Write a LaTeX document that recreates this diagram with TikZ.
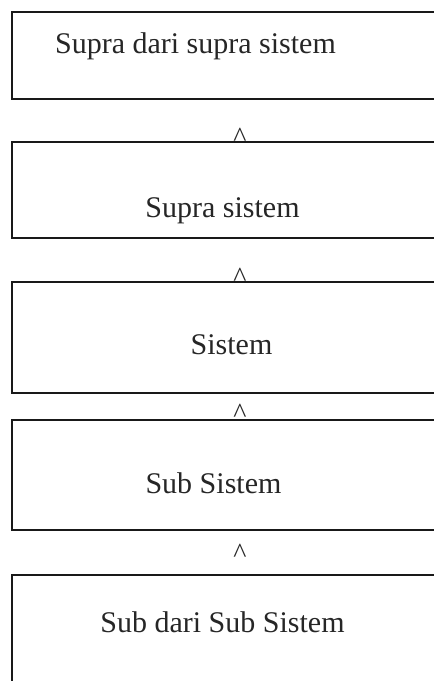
\documentclass[tikz,border=0pt]{standalone}
\usepackage{fontspec}
\setmainfont{Liberation Serif}
\begin{document}
\begin{tikzpicture}[x=1pt,y=-1pt,
        kotak/.style={draw=black!90,line width=1.6pt,anchor=north west,minimum width=470pt,inner sep=0pt},
        teks/.style={anchor=base,inner sep=0pt,font=\fontsize{30}{36}\selectfont,text=black!85},
        tanda/.style={anchor=base,inner sep=0pt,font=\fontsize{28}{32}\selectfont,text=black!85}]
		\useasboundingbox (0,0) rectangle (434,681);
        % kotak-kotak
		\node[kotak,minimum height=87pt] (supsup) at (11,11) {};
		\node[kotak,minimum height=96pt] (supra) at (11,141) {};
		\node[kotak,minimum height=111pt] (sistem) at (11,281) {};
		\node[kotak,minimum height=110pt] (sub) at (11,419) {};
		\node[kotak,minimum height=140pt] (subsub) at (11,574) {};
        % tulisan
		\node[teks] (tsupsup) at (195.5,53) {Supra dari supra sistem};
		\node[teks] (tsupra) at (222.5,217) {Supra sistem};
		\node[teks] (tsistem) at (231.5,354) {Sistem};
		\node[teks] (tsub) at (213.5,493) {Sub Sistem};
		\node[teks] (tsubsub) at (222.5,632) {Sub dari Sub Sistem};
		\foreach \y/\n in {146/t1,286/t2,422/t3,562/t4}{
            \node[tanda] (\n) at (240,\y) {\textasciicircum};
        }
	\end{tikzpicture}
\end{document}
